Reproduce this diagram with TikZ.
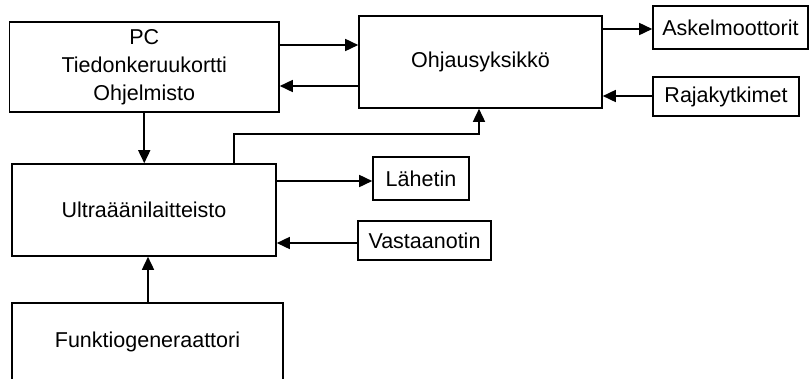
\documentclass[tikz,border=0pt]{standalone}
\usepackage{fontspec}
\setmainfont{Liberation Sans}
\usetikzlibrary{arrows.meta}
\begin{document}
\begin{tikzpicture}[x=1pt,y=-1pt,
  blk/.style={draw=black,line width=1.6pt,inner sep=0pt,align=center,
    font=\fontsize{21.5}{28}\selectfont},
  arr/.style={draw=black,line width=1.6pt,-{Triangle[length=13pt,width=12pt]}}]
  \useasboundingbox[fill=white] (0,0) rectangle (810,378);
  \begin{scope}
  \clip (0,0) rectangle (810,378);
  % blocks
  \node[blk,minimum width=269.5pt,minimum height=90pt] (pc) at (144.25,67)
    {PC\\Tiedonkeruukortti\\Ohjelmisto};
  \node[blk,minimum width=243pt,minimum height=92pt] (ohj) at (480.5,62) {Ohjausyksikkö};
  \node[blk,minimum width=155pt,minimum height=43pt] (ask) at (730.5,27.5) {Askelmoottorit};
  \node[blk,minimum width=146pt,minimum height=39pt] (raja) at (726,96.5) {Rajakytkimet};
  \node[blk,minimum width=264pt,minimum height=92pt] (ultra) at (144,210) {Ultraäänilaitteisto};
  \node[blk,minimum width=96pt,minimum height=43pt] (lah) at (421,178.5) {Lähetin};
  \node[blk,minimum width=133pt,minimum height=39pt] (vast) at (424.5,240.5) {Vastaanotin};
  \node[blk,minimum width=271pt,minimum height=78pt] (funk) at (147.5,342) {Funktiogeneraattori};
  % connectors
  \draw[arr] ([yshift=22pt]pc.east) coordinate (a1) -- (a1 -| ohj.west);
  \draw[arr] ([yshift=-24pt]ohj.west) coordinate (a2) -- (a2 -| pc.east);
  \draw[arr] ([yshift=33pt]ohj.east) coordinate (a3) -- (a3 -| ask.west);
  \draw[arr] ([yshift=0.5pt]raja.west) coordinate (a4) -- (a4 -| ohj.east);
  \draw[arr] (pc.south) -- (pc.south |- ultra.north);
  \draw[arr] ([xshift=90pt]ultra.north) -- ++(0,-29) -| ([xshift=-1.5pt]ohj.south);
  \draw[arr] ([yshift=29pt]ultra.east) coordinate (a5) -- (a5 -| lah.west);
  \draw[arr] ([yshift=-2.5pt]vast.west) coordinate (a6) -- (a6 -| ultra.east);
  \draw[arr] ([xshift=0.5pt]funk.north) coordinate (a7) -- (a7 |- ultra.south);
  \end{scope}
\end{tikzpicture}
\end{document}
